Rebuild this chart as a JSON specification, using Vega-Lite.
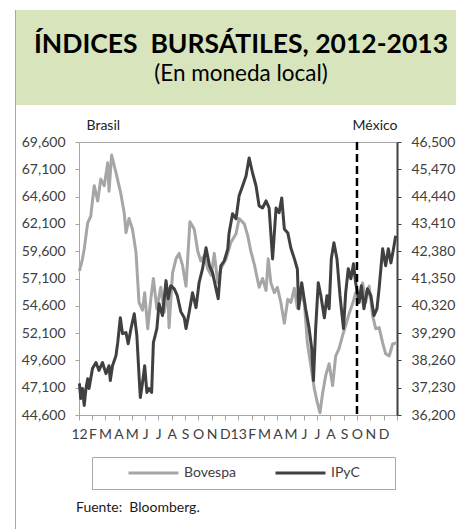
{
  "$schema": "https://vega.github.io/schema/vega-lite/v6.json",
  "padding": {"left": 15, "top": 10, "right": 0, "bottom": 0},
  "background": "white",
  "config": {
    "view": {"stroke": null},
    "font": "Lato",
    "axis": {"labelFont": "Lato", "titleFont": "Lato", "grid": false},
    "legend": {"labelFont": "Lato", "titleFont": "Lato"},
    "title": {"font": "Lato"},
    "text": {"font": "Lato"}
  },
  "columns": 2,
  "align": "none",
  "spacing": {"row": 0, "column": 0},
  "concat": [
    {
      "width": 1,
      "height": 95,
      "view": {"fill": "#A6A6A6", "stroke": null},
      "data": {"values": []},
      "mark": "rule",
      "encoding": {}
    },
    {
      "width": 450,
      "height": 95,
      "view": {"fill": "#D8E4BC", "stroke": null},
      "data": {"values": [{"titulo": "ÍNDICES\u00a0 BURSÁTILES, 2012-2013", "subtitulo": "(En moneda local)"}]},
      "layer": [
        {
          "mark": {"type": "text", "fontSize": 26.5, "fontWeight": "bold", "color": "#000000", "baseline": "alphabetic", "dy": -4.5},
          "encoding": {"text": {"field": "titulo", "type": "nominal"}}
        },
        {
          "mark": {"type": "text", "fontSize": 22.5, "fontWeight": "normal", "color": "#000000", "baseline": "alphabetic", "dy": 23.5},
          "encoding": {"text": {"field": "subtitulo", "type": "nominal"}}
        }
      ]
    },
    {
      "width": 1,
      "height": 425,
      "view": {"fill": "#A6A6A6", "stroke": null},
      "data": {"values": []},
      "mark": "rule",
      "encoding": {}
    },
    {
      "width": 318,
      "height": 273,
      "view": {"stroke": "#A6A6A6", "fill": null},
      "title": {"text": "Fuente:\u00a0 Bloomberg.", "orient": "bottom", "anchor": "start", "frame": "group", "offset": 60, "dx": -3, "fontSize": 14, "fontWeight": "normal", "color": "#1A1A1A"},
      "resolve": {"scale": {"y": "independent"}, "axis": {"y": "independent", "x": "independent"}},
      "layer": [
        {
          "data": {"values": [
            {"fecha": "2012-01-02", "valor": 57800},
            {"fecha": "2012-01-09", "valor": 58900},
            {"fecha": "2012-01-13", "valor": 59800},
            {"fecha": "2012-01-21", "valor": 62200},
            {"fecha": "2012-01-28", "valor": 62800},
            {"fecha": "2012-02-05", "valor": 65600},
            {"fecha": "2012-02-13", "valor": 64200},
            {"fecha": "2012-02-20", "valor": 66200},
            {"fecha": "2012-02-28", "valor": 65600},
            {"fecha": "2012-03-07", "valor": 67700},
            {"fecha": "2012-03-10", "valor": 65100},
            {"fecha": "2012-03-16", "valor": 68400},
            {"fecha": "2012-03-26", "valor": 66800},
            {"fecha": "2012-04-06", "valor": 64900},
            {"fecha": "2012-04-14", "valor": 63100},
            {"fecha": "2012-04-18", "valor": 61300},
            {"fecha": "2012-04-25", "valor": 62600},
            {"fecha": "2012-05-03", "valor": 61600},
            {"fecha": "2012-05-11", "valor": 59500},
            {"fecha": "2012-05-18", "valor": 54900},
            {"fecha": "2012-05-26", "valor": 54200},
            {"fecha": "2012-05-31", "valor": 55800},
            {"fecha": "2012-06-07", "valor": 52500},
            {"fecha": "2012-06-14", "valor": 55200},
            {"fecha": "2012-06-20", "valor": 57100},
            {"fecha": "2012-06-28", "valor": 54300},
            {"fecha": "2012-07-07", "valor": 56300},
            {"fecha": "2012-07-15", "valor": 54000},
            {"fecha": "2012-07-23", "valor": 56200},
            {"fecha": "2012-07-26", "valor": 52600},
            {"fecha": "2012-08-03", "valor": 57600},
            {"fecha": "2012-08-11", "valor": 58900},
            {"fecha": "2012-08-18", "valor": 59400},
            {"fecha": "2012-08-26", "valor": 58300},
            {"fecha": "2012-09-03", "valor": 56400},
            {"fecha": "2012-09-12", "valor": 62300},
            {"fecha": "2012-09-22", "valor": 61600},
            {"fecha": "2012-09-30", "valor": 59600},
            {"fecha": "2012-10-07", "valor": 58700},
            {"fecha": "2012-10-15", "valor": 59200},
            {"fecha": "2012-10-23", "valor": 58000},
            {"fecha": "2012-10-31", "valor": 57400},
            {"fecha": "2012-11-07", "valor": 59400},
            {"fecha": "2012-11-15", "valor": 56700},
            {"fecha": "2012-11-22", "valor": 58000},
            {"fecha": "2012-12-04", "valor": 58900},
            {"fecha": "2012-12-15", "valor": 60400},
            {"fecha": "2012-12-27", "valor": 61200},
            {"fecha": "2013-01-03", "valor": 62600},
            {"fecha": "2013-01-15", "valor": 62100},
            {"fecha": "2013-01-23", "valor": 61000},
            {"fecha": "2013-01-30", "valor": 59600},
            {"fecha": "2013-02-07", "valor": 58400},
            {"fecha": "2013-02-18", "valor": 56300},
            {"fecha": "2013-02-26", "valor": 57100},
            {"fecha": "2013-03-06", "valor": 56000},
            {"fecha": "2013-03-11", "valor": 58900},
            {"fecha": "2013-03-17", "valor": 56700},
            {"fecha": "2013-03-25", "valor": 55800},
            {"fecha": "2013-04-01", "valor": 56300},
            {"fecha": "2013-04-09", "valor": 54900},
            {"fecha": "2013-04-17", "valor": 53000},
            {"fecha": "2013-04-25", "valor": 55200},
            {"fecha": "2013-05-02", "valor": 54900},
            {"fecha": "2013-05-10", "valor": 56200},
            {"fecha": "2013-05-17", "valor": 54400},
            {"fecha": "2013-05-25", "valor": 55500},
            {"fecha": "2013-06-02", "valor": 54900},
            {"fecha": "2013-06-09", "valor": 51200},
            {"fecha": "2013-06-17", "valor": 49100},
            {"fecha": "2013-06-25", "valor": 47000},
            {"fecha": "2013-07-02", "valor": 45700},
            {"fecha": "2013-07-08", "valor": 44800},
            {"fecha": "2013-07-14", "valor": 46600},
            {"fecha": "2013-07-21", "valor": 48200},
            {"fecha": "2013-07-29", "valor": 49300},
            {"fecha": "2013-08-06", "valor": 47300},
            {"fecha": "2013-08-13", "valor": 50000},
            {"fecha": "2013-08-21", "valor": 50700},
            {"fecha": "2013-08-29", "valor": 51900},
            {"fecha": "2013-09-05", "valor": 52800},
            {"fecha": "2013-09-13", "valor": 53900},
            {"fecha": "2013-09-21", "valor": 54800},
            {"fecha": "2013-09-28", "valor": 55800},
            {"fecha": "2013-10-06", "valor": 55200},
            {"fecha": "2013-10-14", "valor": 56700},
            {"fecha": "2013-10-21", "valor": 54900},
            {"fecha": "2013-10-29", "valor": 56400},
            {"fecha": "2013-11-06", "valor": 53700},
            {"fecha": "2013-11-13", "valor": 52500},
            {"fecha": "2013-11-21", "valor": 52600},
            {"fecha": "2013-11-29", "valor": 51200},
            {"fecha": "2013-12-06", "valor": 50200},
            {"fecha": "2013-12-14", "valor": 50000},
            {"fecha": "2013-12-22", "valor": 51100},
            {"fecha": "2013-12-31", "valor": 51200}
          ]},
          "mark": {"type": "line", "strokeWidth": 3, "strokeJoin": "round"},
          "encoding": {
            "x": {
              "field": "fecha", "type": "temporal",
              "scale": {"domain": [{"year": 2012, "month": 1, "date": 1}, {"year": 2014, "month": 1, "date": 1}]},
              "axis": {
                "orient": "bottom", "title": null,
                "tickCount": {"interval": "month", "step": 1},
                "labelExpr": "month(datum.value) == 0 ? (year(datum.value) == 2014 ? '' : timeFormat(datum.value, '%y')) : ['E','F','M','A','M','J','J','A','S','O','N','D'][month(datum.value)]",
                "labelAngle": 0, "labelFontSize": 14, "labelColor": "#404040",
                "labelFlush": false, "labelOverlap": false, "labelBound": false,
                "tickColor": "#A6A6A6", "domainColor": "#A6A6A6", "tickSize": 5, "labelPadding": 7
              }
            },
            "y": {
              "field": "valor", "type": "quantitative",
              "scale": {"domain": [44600, 69600], "nice": false, "zero": false},
              "axis": {
                "orient": "left",
                "values": [44600, 47100, 49600, 52100, 54600, 57100, 59600, 62100, 64600, 67100, 69600],
                "format": ",.0f", "labelFontSize": 14, "labelColor": "#404040",
                "tickColor": "#A6A6A6", "domainColor": "#A6A6A6", "tickSize": 4, "labelPadding": 10,
                "minExtent": 62,
                "title": "Brasil", "titleAngle": 0, "titleX": 7, "titleY": -13,
                "titleAlign": "left", "titleBaseline": "alphabetic",
                "titleFontSize": 14, "titleFontWeight": "normal", "titleColor": "#222222"
              }
            },
            "color": {
              "datum": "Bovespa", "type": "nominal",
              "scale": {"domain": ["Bovespa", "IPyC"], "range": ["#A6A6A6", "#404040"]},
              "legend": {
                "orient": "none", "legendX": 77, "legendY": 447, "direction": "horizontal",
                "title": "\u00a0", "titleOrient": "left", "titlePadding": 30, "titleFontSize": 10,
                "padding": 5, "strokeColor": "#A6A6A6", "fillColor": "white",
                "symbolType": "stroke", "symbolSize": 2500, "symbolStrokeWidth": 3, "clipHeight": 22,
                "labelFontSize": 14, "labelColor": "#404040", "labelOffset": 4,
                "labelExpr": "datum.label == 'IPyC' ? 'IPyC\u2800\u2800\u2800' : datum.label",
                "columnPadding": 38
              }
            }
          }
        },
        {
          "data": {"values": [
            {"fecha": "2012-01-02", "valor": 37390},
            {"fecha": "2012-01-05", "valor": 36820},
            {"fecha": "2012-01-09", "valor": 37200},
            {"fecha": "2012-01-13", "valor": 36560},
            {"fecha": "2012-01-17", "valor": 37200},
            {"fecha": "2012-01-21", "valor": 37570},
            {"fecha": "2012-01-24", "valor": 37200},
            {"fecha": "2012-02-01", "valor": 37950},
            {"fecha": "2012-02-09", "valor": 38180},
            {"fecha": "2012-02-16", "valor": 37880},
            {"fecha": "2012-02-24", "valor": 38180},
            {"fecha": "2012-03-03", "valor": 37760},
            {"fecha": "2012-03-10", "valor": 38060},
            {"fecha": "2012-03-13", "valor": 37500},
            {"fecha": "2012-03-18", "valor": 38060},
            {"fecha": "2012-03-26", "valor": 38440},
            {"fecha": "2012-03-30", "valor": 38930},
            {"fecha": "2012-04-05", "valor": 39870},
            {"fecha": "2012-04-10", "valor": 39270},
            {"fecha": "2012-04-18", "valor": 39310},
            {"fecha": "2012-04-23", "valor": 38890},
            {"fecha": "2012-04-30", "valor": 39500},
            {"fecha": "2012-05-07", "valor": 40020},
            {"fecha": "2012-05-13", "valor": 39190},
            {"fecha": "2012-05-18", "valor": 37690},
            {"fecha": "2012-05-21", "valor": 36860},
            {"fecha": "2012-05-26", "valor": 37420},
            {"fecha": "2012-05-31", "valor": 38060},
            {"fecha": "2012-06-05", "valor": 37050},
            {"fecha": "2012-06-10", "valor": 37200},
            {"fecha": "2012-06-16", "valor": 37050},
            {"fecha": "2012-06-20", "valor": 38930},
            {"fecha": "2012-06-28", "valor": 39460},
            {"fecha": "2012-07-03", "valor": 40400},
            {"fecha": "2012-07-11", "valor": 39950},
            {"fecha": "2012-07-19", "valor": 41270},
            {"fecha": "2012-07-24", "valor": 40590},
            {"fecha": "2012-07-30", "valor": 41080},
            {"fecha": "2012-08-07", "valor": 40960},
            {"fecha": "2012-08-14", "valor": 40700},
            {"fecha": "2012-08-22", "valor": 40100},
            {"fecha": "2012-08-30", "valor": 39870},
            {"fecha": "2012-09-03", "valor": 39460},
            {"fecha": "2012-09-10", "valor": 40060},
            {"fecha": "2012-09-18", "valor": 40810},
            {"fecha": "2012-09-26", "valor": 40250},
            {"fecha": "2012-10-03", "valor": 41190},
            {"fecha": "2012-10-11", "valor": 41720},
            {"fecha": "2012-10-19", "valor": 42510},
            {"fecha": "2012-10-27", "valor": 41830},
            {"fecha": "2012-11-03", "valor": 41570},
            {"fecha": "2012-11-11", "valor": 40960},
            {"fecha": "2012-11-16", "valor": 40590},
            {"fecha": "2012-11-22", "valor": 41830},
            {"fecha": "2012-11-30", "valor": 42020},
            {"fecha": "2012-12-08", "valor": 42470},
            {"fecha": "2012-12-11", "valor": 43070},
            {"fecha": "2012-12-19", "valor": 43790},
            {"fecha": "2012-12-27", "valor": 43600},
            {"fecha": "2013-01-03", "valor": 44470},
            {"fecha": "2013-01-11", "valor": 44840},
            {"fecha": "2013-01-19", "valor": 45220},
            {"fecha": "2013-01-26", "valor": 45900},
            {"fecha": "2013-02-03", "valor": 45330},
            {"fecha": "2013-02-11", "valor": 44840},
            {"fecha": "2013-02-18", "valor": 44090},
            {"fecha": "2013-02-26", "valor": 44010},
            {"fecha": "2013-03-06", "valor": 44280},
            {"fecha": "2013-03-13", "valor": 44010},
            {"fecha": "2013-03-21", "valor": 42090},
            {"fecha": "2013-03-29", "valor": 44010},
            {"fecha": "2013-04-05", "valor": 43830},
            {"fecha": "2013-04-11", "valor": 44390},
            {"fecha": "2013-04-17", "valor": 43220},
            {"fecha": "2013-04-25", "valor": 43070},
            {"fecha": "2013-05-02", "valor": 42500},
            {"fecha": "2013-05-10", "valor": 42100},
            {"fecha": "2013-05-17", "valor": 41700},
            {"fecha": "2013-05-20", "valor": 40210},
            {"fecha": "2013-05-27", "valor": 41190},
            {"fecha": "2013-06-05", "valor": 40210},
            {"fecha": "2013-06-13", "valor": 39460},
            {"fecha": "2013-06-19", "valor": 38700},
            {"fecha": "2013-06-23", "valor": 37500},
            {"fecha": "2013-06-28", "valor": 39460},
            {"fecha": "2013-07-04", "valor": 41190},
            {"fecha": "2013-07-10", "valor": 40700},
            {"fecha": "2013-07-18", "valor": 39870},
            {"fecha": "2013-07-24", "valor": 40700},
            {"fecha": "2013-07-29", "valor": 40210},
            {"fecha": "2013-08-03", "valor": 42090},
            {"fecha": "2013-08-09", "valor": 42700},
            {"fecha": "2013-08-16", "valor": 42090},
            {"fecha": "2013-08-23", "valor": 40700},
            {"fecha": "2013-08-31", "valor": 39460},
            {"fecha": "2013-09-05", "valor": 40810},
            {"fecha": "2013-09-11", "valor": 41720},
            {"fecha": "2013-09-17", "valor": 41340},
            {"fecha": "2013-09-23", "valor": 41910},
            {"fecha": "2013-09-28", "valor": 41190},
            {"fecha": "2013-10-06", "valor": 40440},
            {"fecha": "2013-10-11", "valor": 41080},
            {"fecha": "2013-10-17", "valor": 40210},
            {"fecha": "2013-10-25", "valor": 40960},
            {"fecha": "2013-11-02", "valor": 40700},
            {"fecha": "2013-11-09", "valor": 39950},
            {"fecha": "2013-11-16", "valor": 40210},
            {"fecha": "2013-11-21", "valor": 41000},
            {"fecha": "2013-11-29", "valor": 42470},
            {"fecha": "2013-12-06", "valor": 41830},
            {"fecha": "2013-12-12", "valor": 42470},
            {"fecha": "2013-12-18", "valor": 41940},
            {"fecha": "2013-12-24", "valor": 42470},
            {"fecha": "2013-12-29", "valor": 42960}
          ]},
          "mark": {"type": "line", "strokeWidth": 3, "strokeJoin": "round"},
          "encoding": {
            "x": {
              "field": "fecha", "type": "temporal",
              "scale": {"domain": [{"year": 2012, "month": 1, "date": 1}, {"year": 2014, "month": 1, "date": 1}]},
              "axis": null
            },
            "y": {
              "field": "valor", "type": "quantitative",
              "scale": {"domain": [36200, 46500], "nice": false, "zero": false},
              "axis": {
                "orient": "right",
                "values": [36200, 37230, 38260, 39290, 40320, 41350, 42380, 43410, 44440, 45470, 46500],
                "format": ",.0f", "labelFontSize": 14, "labelColor": "#404040",
                "tickColor": "#404040", "domainColor": "#404040", "domainWidth": 2, "tickSize": 4, "labelPadding": 10,
                "title": "México", "titleAngle": 0, "titleX": 0, "titleY": -13,
                "titleAlign": "right", "titleBaseline": "alphabetic",
                "titleFontSize": 14, "titleFontWeight": "normal", "titleColor": "#222222"
              }
            },
            "color": {
              "datum": "IPyC", "type": "nominal",
              "scale": {"domain": ["Bovespa", "IPyC"], "range": ["#A6A6A6", "#404040"]}
            }
          }
        },
        {
          "data": {"values": [{"fecha": "2013-10-01"}]},
          "mark": {"type": "rule", "strokeDash": [8, 4], "strokeWidth": 2.5, "color": "#000000"},
          "encoding": {
            "x": {
              "field": "fecha", "type": "temporal",
              "scale": {"domain": [{"year": 2012, "month": 1, "date": 1}, {"year": 2014, "month": 1, "date": 1}]},
              "axis": {"orient": "top", "labels": false, "ticks": false, "domain": false, "grid": false, "title": null, "minExtent": 36, "maxExtent": 36}
            }
          }
        }
      ]
    }
  ]
}
